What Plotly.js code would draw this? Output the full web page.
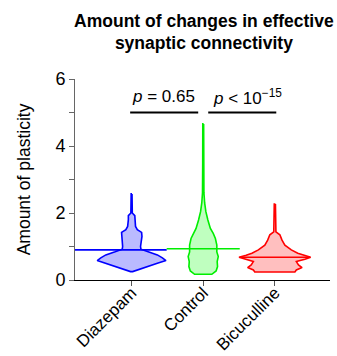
<!DOCTYPE html>
<html>
<head>
<meta charset="utf-8">
<script src="https://cdn.plot.ly/plotly-3.0.1.min.js"></script>
<style>html,body{margin:0;padding:0;background:#fff;}#chart{width:337px;height:356px;}</style>
</head>
<body>
<div id="chart"></div>
<script>
// Categories and positions
const categories = ["Diazepam", "Control", "Bicuculline"];
const catPos = [0, 1, 2];

// Violin density profiles: y levels (top -> bottom) and half widths (x units)
const diazY = [2.57, 2.0, 1.92, 1.8, 1.6, 1.5, 1.42, 1.3, 1.12, 1.0, 0.92, 0.84, 0.75, 0.66, 0.58, 0.5, 0.42, 0.33, 0.25];
const diazW = [0.006, 0.01, 0.045, 0.045, 0.055, 0.08, 0.14, 0.145, 0.13, 0.125, 0.13, 0.23, 0.36, 0.43, 0.48, 0.36, 0.25, 0.13, 0.015];

const ctrlY = [4.66, 3.5, 2.6, 2.3, 2.04, 1.79, 1.54, 1.39, 1.24, 1.04, 0.84, 0.70, 0.55, 0.40, 0.27, 0.17];
const ctrlW = [0.006, 0.007, 0.01, 0.02, 0.037, 0.065, 0.10, 0.14, 0.17, 0.19, 0.19, 0.21, 0.195, 0.20, 0.18, 0.12];

const bicY = [2.27, 1.44, 1.35, 1.19, 1.04, 0.90, 0.80, 0.74, 0.68, 0.62, 0.55, 0.45, 0.37, 0.30, 0.24];
const bicW = [0.008, 0.015, 0.07, 0.10, 0.14, 0.23, 0.32, 0.40, 0.50, 0.42, 0.30, 0.33, 0.38, 0.30, 0.28];

// Mean lines: value and left/right extents (x units)
const meanVals = [0.90, 0.935, 0.68];
const meanLeft = [-0.79, 0.49, 1.51];
const meanRight = [0.49, 1.51, 2.49];

// Significance annotations
const sigText = ["<i>p</i> = 0.65", "<i>p</i> &lt; 10<sup>\u221215</sup>"];
const sigX0 = [-0.02, 1.07];
const sigX1 = [0.93, 2.02];
const sigY = [5.0, 5.0];
const sigTextX = [0.44, 1.62];
const sigTextY = [5.47, 5.47];

const lineColors = ["#0000ff", "#00ee00", "#ff0000"];
const fillColors = ["rgba(0,0,255,0.27)", "rgba(0,255,0,0.25)", "rgba(255,0,0,0.25)"];

const profiles = [[diazY, diazW], [ctrlY, ctrlW], [bicY, bicW]];
const traces = [];
profiles.forEach(([ys, ws], i) => {
  const c = catPos[i];
  const xs = [], yy = [];
  for (let k = 0; k < ys.length; k++) { xs.push(c + ws[k]); yy.push(ys[k]); }
  for (let k = ys.length - 1; k >= 0; k--) { xs.push(c - ws[k]); yy.push(ys[k]); }
  xs.push(xs[0]); yy.push(yy[0]);
  traces.push({
    type: "scatter", mode: "lines", x: xs, y: yy, fill: "toself",
    fillcolor: fillColors[i], line: {color: lineColors[i], width: 1.6},
    hoverinfo: "skip", showlegend: false
  });
});
meanVals.forEach((v, i) => {
  traces.push({
    type: "scatter", mode: "lines", x: [meanLeft[i], meanRight[i]],
    y: [v, v], line: {color: lineColors[i], width: 1.6}, showlegend: false, hoverinfo: "skip"
  });
});
sigX0.forEach((x0, i) => {
  traces.push({
    type: "scatter", mode: "lines", x: [x0, sigX1[i]], y: [sigY[i], sigY[i]],
    line: {color: "#000", width: 2}, showlegend: false, hoverinfo: "skip"
  });
});

const annotations = sigText.map((t, i) => ({
  x: sigTextX[i], y: sigTextY[i], xref: "x", yref: "y", text: t, showarrow: false,
  font: {size: 17, color: "#000", family: "Liberation Sans, Arial, sans-serif"}
}));

const layout = {
  width: 337, height: 356,
  margin: {l: 75, r: 7, t: 79, b: 76},
  paper_bgcolor: "#fff", plot_bgcolor: "#fff",
  font: {family: "Liberation Sans, Arial, sans-serif", color: "#000"},
  title: {
    text: "<b>Amount of changes in effective<br>synaptic connectivity</b>",
    font: {size: 17.5, color: "#000"}, x: 0.605, xanchor: "center",
    yref: "container", y: 0.925, yanchor: "middle"
  },
  xaxis: {
    range: [-0.79, 2.77], tickvals: catPos, ticktext: categories, tickangle: -45,
    showgrid: false, zeroline: false, showline: true, linecolor: "#000", linewidth: 1.2,
    ticks: "outside", ticklen: 5, tickcolor: "#555", tickfont: {size: 17},
    ticklabelstandoff: -10
  },
  yaxis: {
    range: [0, 6], tickvals: [0, 1, 2, 3, 4, 5, 6], ticktext: ["0", "", "2", "", "4", "", "6"],
    showgrid: false, zeroline: false, showline: true, linecolor: "#666", linewidth: 1,
    ticks: "outside", ticklen: 5, tickcolor: "#666", tickfont: {size: 18},
    title: {text: "Amount of plasticity", font: {size: 17.5}, standoff: 20}
  },
  annotations: annotations
};

Plotly.newPlot("chart", traces, layout, {staticPlot: true, displayModeBar: false});
</script>
</body>
</html>
